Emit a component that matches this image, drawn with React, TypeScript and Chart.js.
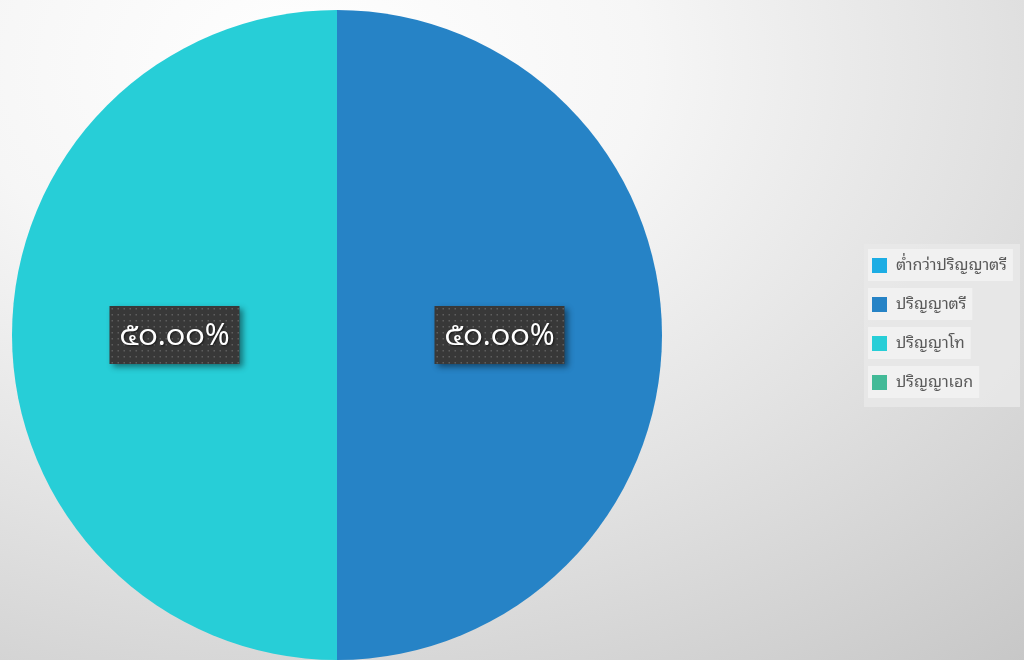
import React, { useEffect, useRef } from "react";
import { Chart, registerables } from "chart.js";

Chart.register(...registerables);

const categories = ["ต่ำกว่าปริญญาตรี", "ปริญญาตรี", "ปริญญาโท", "ปริญญาเอก"];
const values = [0, 50, 50, 0];
const colors = ["#1CADE4", "#2683C6", "#27CED7", "#42BA97"];
const thaiDigits = ["๐", "๑", "๒", "๓", "๔", "๕", "๖", "๗", "๘", "๙"];

const FONT = '"Noto Sans Thai Looped", "Noto Sans Thai", "Noto Sans", "DejaVu Sans", sans-serif';

function toThai(s: string): string {
  return s.replace(/[0-9]/g, (d) => thaiDigits[Number(d)]);
}

const labelPlugin = {
  id: "boxLabels",
  afterDatasetsDraw(chart: any) {
    const ctx = chart.ctx as CanvasRenderingContext2D;
    const meta = chart.getDatasetMeta(0);
    const data = chart.data.datasets[0].data as number[];
    const total = data.reduce((a, b) => a + b, 0);
    meta.data.forEach((arc: any, i: number) => {
      const v = data[i];
      if (!v) return;
      const pos = arc.tooltipPosition();
      const text = toThai(((v / total) * 100).toFixed(2)) + "%";
      const w = 130;
      const h = 58;
      const x = pos.x - w / 2;
      const y = pos.y - h / 2;
      ctx.save();
      ctx.shadowColor = "rgba(0,0,0,0.45)";
      ctx.shadowBlur = 6;
      ctx.shadowOffsetX = 3;
      ctx.shadowOffsetY = 3;
      ctx.fillStyle = "#383838";
      ctx.fillRect(x, y, w, h);
      ctx.restore();
      ctx.save();
      ctx.beginPath();
      ctx.rect(x, y, w, h);
      ctx.clip();
      ctx.fillStyle = "rgba(120,120,120,0.6)";
      for (let yy = y + 2; yy < y + h; yy += 6) {
        for (let xx = x + 2; xx < x + w; xx += 6) {
          ctx.fillRect(xx, yy, 1.5, 1.5);
        }
      }
      ctx.restore();
      ctx.save();
      ctx.font = `30px ${FONT}`;
      ctx.fillStyle = "#ffffff";
      ctx.textAlign = "center";
      ctx.textBaseline = "middle";
      ctx.shadowColor = "rgba(0,0,0,0.6)";
      ctx.shadowBlur = 2;
      ctx.shadowOffsetX = 1;
      ctx.shadowOffsetY = 1;
      ctx.fillText(text, pos.x, pos.y + 2);
      ctx.restore();
    });
  },
};

const legendPlugin = {
  id: "customLegend",
  afterDraw(chart: any) {
    const ctx = chart.ctx as CanvasRenderingContext2D;
    const labels = chart.data.labels as string[];
    const bg = chart.data.datasets[0].backgroundColor as string[];
    const bx = 864;
    const by = 244;
    const bw = 156;
    const bh = 163;
    ctx.save();
    ctx.fillStyle = "rgba(232,232,232,0.9)";
    ctx.fillRect(bx, by, bw, bh);
    ctx.font = `16px ${FONT}`;
    ctx.textBaseline = "middle";
    labels.forEach((lab, i) => {
      const cy = 265 + i * 39;
      const tw = ctx.measureText(lab).width;
      ctx.fillStyle = "rgba(242,242,242,0.9)";
      ctx.fillRect(868, cy - 16, 896 - 868 + tw + 6, 32);
      ctx.fillStyle = bg[i];
      ctx.fillRect(872, cy - 7, 15, 15);
      ctx.fillStyle = "#595959";
      ctx.fillText(lab, 896, cy);
    });
    ctx.restore();
  },
};

export default function App() {
  const ref = useRef<HTMLCanvasElement | null>(null);
  useEffect(() => {
    if (!ref.current) return;
    const chart = new Chart(ref.current, {
      type: "pie",
      data: {
        labels: categories,
        datasets: [
          {
            data: values,
            backgroundColor: colors,
            borderWidth: 0,
          },
        ],
      },
      options: {
        responsive: false,
        animation: false,
        devicePixelRatio: 1,
        layout: { padding: { left: 12, right: 362, top: 10, bottom: 0 } },
        plugins: {
          legend: { display: false },
          tooltip: { enabled: false },
        },
      },
      plugins: [labelPlugin, legendPlugin],
    });
    return () => chart.destroy();
  }, []);
  return (
    <div
      style={{
        position: "fixed",
        left: 0,
        top: 0,
        width: 1024,
        height: 660,
        background:
          "radial-gradient(ellipse 110% 120% at 30% 10%, #ffffff 0%, #f6f6f6 30%, #e2e2e2 60%, #c6c6c6 100%)",
      }}
    >
      <canvas ref={ref} width={1024} height={660} style={{ display: "block" }} />
    </div>
  );
}
